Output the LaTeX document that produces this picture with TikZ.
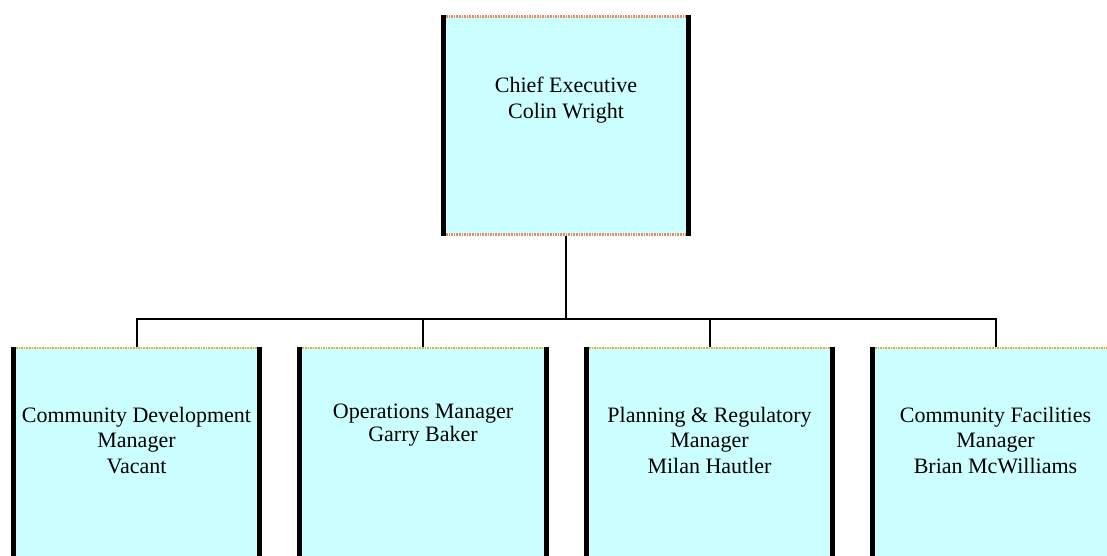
\documentclass[tikz,border=0pt]{standalone}
\usepackage{fontspec}
\setmainfont{Liberation Serif}
\usetikzlibrary{positioning}
\definecolor{boxfill}{HTML}{CCFFFF}
\definecolor{topedge}{HTML}{EE8A5C}
\definecolor{lowedge}{HTML}{DDB040}

\tikzset{
  postbox/.style={fill=boxfill, inner sep=0pt, minimum width=246pt, minimum height=220pt},
  posttext/.style={align=center, inner sep=0pt, font=\fontsize{22}{25.5}\selectfont},
  sidebar/.style={line width=5pt},
  rimline/.style={line width=2.6pt, dash pattern=on 1.6pt off 1pt},
  orgline/.style={line width=2pt},
}

\begin{document}
\begin{tikzpicture}[x=1pt, y=-1pt]
  \useasboundingbox (0,0) rectangle (1107,555);
  \clip (0,0) rectangle (1107,555);
  % Chief executive box
  \node[postbox, minimum width=245pt] (ce) at (566,125.5) {};
  \draw[rimline, topedge] ([yshift=-1pt]ce.north west) -- ([yshift=-1pt]ce.north east);
  \draw[rimline, topedge] ([yshift=1pt]ce.south west) -- ([yshift=1pt]ce.south east);
  \draw[sidebar] (ce.north west) -- (ce.south west);
  \draw[sidebar] (ce.north east) -- (ce.south east);
  \node[posttext, below=62pt of ce.north] (cetext) {Chief Executive\\Colin Wright};
  % Manager boxes
  \node[postbox] (cd) at (136.5,457) {};
  \node[postbox] (om) at (423,457) {};
  \node[postbox] (pr) at (709.5,457) {};
  \node[postbox] (cf) at (995.5,457) {};
  \foreach \bx in {cd,om,pr,cf} {
    \draw[rimline, lowedge] ([yshift=-1pt]\bx.north west) -- ([yshift=-1pt]\bx.north east);
    \draw[sidebar] (\bx.north west) -- (\bx.south west);
    \draw[sidebar] (\bx.north east) -- (\bx.south east);
  }
  \node[posttext, below=60pt of cd.north] (cdtext) {Community Development\\Manager\\Vacant};
  \node[posttext, below=57pt of om.north] (omtext) {Operations Manager\\[-2.8pt]Garry Baker};
  \node[posttext, below=60pt of pr.north] (prtext) {Planning \& Regulatory\\Manager\\Milan Hautler};
  \node[posttext, below=60pt of cf.north] (cftext) {Community Facilities\\Manager\\Brian McWilliams};
  % Reporting lines
  \coordinate (bus) at (566,319);
  \draw[orgline] (ce.south) -- (bus);
  \draw[orgline] (bus) -| (cd.north);
  \draw[orgline] (bus) -| (om.north);
  \draw[orgline] (bus) -| (pr.north);
  \draw[orgline] (bus) -| (cf.north);
\end{tikzpicture}
\end{document}
